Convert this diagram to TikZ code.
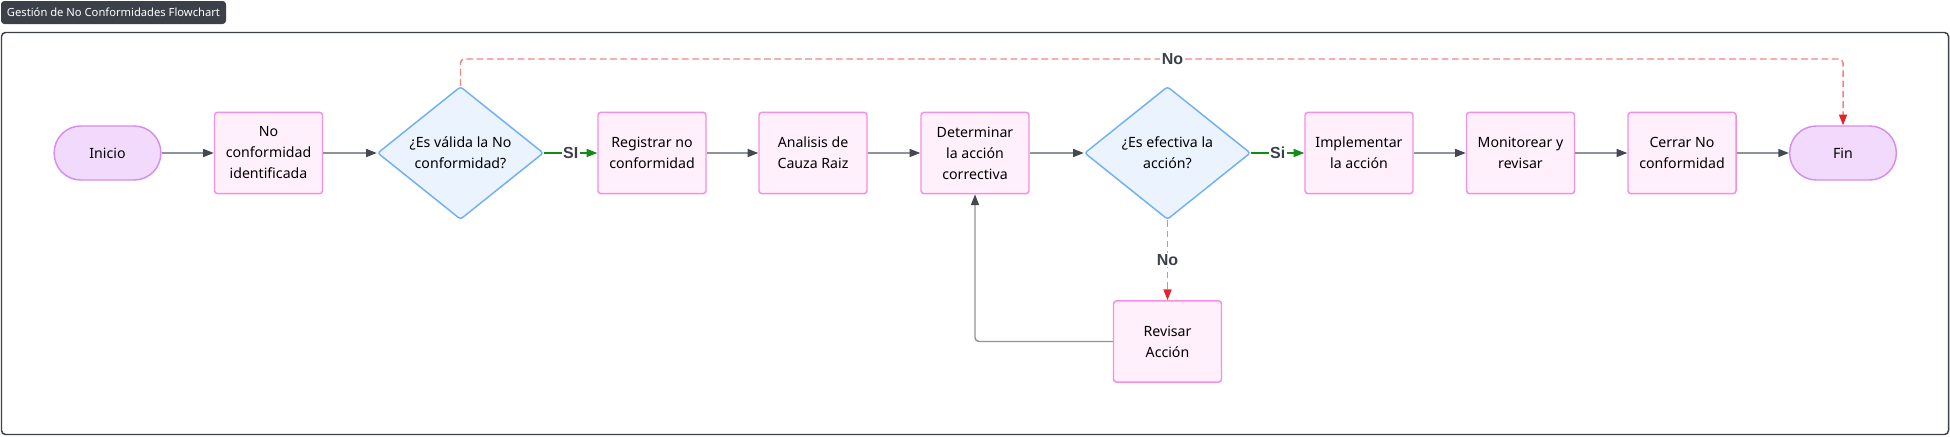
\documentclass[tikz,border=0pt]{standalone}
\usepackage{fontspec}
\setmainfont{Noto Sans}
\newfontfamily\lblfont{Liberation Sans}
\usetikzlibrary{shapes.geometric,arrows.meta}
\definecolor{boxfill}{HTML}{FFF0FB}
\definecolor{boxdraw}{HTML}{F48FE1}
\definecolor{termfill}{HTML}{F2DAFD}
\definecolor{termdraw}{HTML}{D48DF2}
\definecolor{decfill}{HTML}{EBF4FE}
\definecolor{decdraw}{HTML}{71B0F6}
\definecolor{linegray}{HTML}{8F939A}
\definecolor{tipgray}{HTML}{434851}
\definecolor{yesgreen}{HTML}{168A16}
\definecolor{nored}{HTML}{F08484}
\definecolor{tipred}{HTML}{E5222A}
\definecolor{labelgray}{HTML}{3C4049}
\definecolor{framegray}{HTML}{3C4049}
\tikzset{
  nodefont/.style={font=\fontsize{10.6}{15.75}\selectfont},
  procbox/.style={rectangle, rounded corners=2.25pt, fill=boxfill, draw=boxdraw, line width=1.1pt,
    minimum width=81pt, minimum height=61pt, align=center, inner sep=0pt, nodefont},
  termbox/.style={rectangle, rounded corners=20pt, fill=termfill, draw=termdraw, line width=1.1pt,
    minimum width=80pt, minimum height=40.5pt, inner sep=0pt, nodefont},
  decbox/.style={diamond, shape aspect=1.25, rounded corners=2pt, fill=decfill, draw=decdraw, line width=1.1pt,
    minimum width=124.5pt, minimum height=99.75pt, inner sep=0pt, align=center, nodefont},
  flow/.style={draw=linegray, line width=1.1pt, -{Triangle[length=8pt,width=6pt,color=tipgray]}},
  yesflow/.style={draw=yesgreen, line width=1.1pt, -{Triangle[length=8pt,width=6pt]}},
  noflow/.style={draw=nored, line width=1.1pt, dash pattern=on 5pt off 2.7pt, -{Triangle[length=8pt,width=6pt,color=tipred]}},
  lbl/.style={fill=white, text=labelgray, font=\lblfont\bfseries\fontsize{12}{13}\selectfont, inner sep=1.2pt},
}
\begin{document}
\begin{tikzpicture}[x=0.75pt,y=-0.75pt]
\useasboundingbox (0,0) rectangle (1950,436);
% title badge and frame
\node[fill=framegray, rounded corners=2.5pt, text=white, minimum width=168.75pt, minimum height=17.25pt,
  inner sep=0pt, font=\fontsize{8.4}{10}\selectfont] (title) at (113.5,12.5) {Gestión de No Conformidades Flowchart};
\draw[framegray, line width=1.1pt, rounded corners=3pt] (1.5,32.5) rectangle (1948.5,434.5);
% nodes
\node[termbox] (ini) at (107.5,153) {Inicio};
\node[procbox] (ident) at (268.5,153) {No\\conformidad\\identificada};
\node[decbox] (d1) at (460.5,153) {¿Es válida la No\\conformidad?};
\node[procbox] (reg) at (652,153) {Registrar no\\conformidad};
\node[procbox] (ana) at (813,153) {Analisis de\\Cauza Raiz};
\node[procbox] (det) at (975,153) {Determinar\\la acción\\correctiva};
\node[decbox] (d2) at (1167.5,153) {¿Es efectiva la\\acción?};
\node[procbox] (rev) at (1167.5,341.5) {Revisar\\Acción};
\node[procbox] (imp) at (1359,153) {Implementar\\la acción};
\node[procbox] (mon) at (1520.5,153) {Monitorear y\\revisar};
\node[procbox] (cer) at (1682,153) {Cerrar No\\conformidad};
\node[termbox] (fin) at (1843,153) {Fin};
\coordinate (topL) at (460.5,59);
% connectors
\draw[flow] (ini) -- (ident);
\draw[flow] (ident) -- (d1);
\draw[yesflow] (d1) -- node[lbl]{SI} (reg);
\draw[flow] (reg) -- (ana);
\draw[flow] (ana) -- (det);
\draw[flow] (det) -- (d2);
\draw[yesflow] (d2) -- node[lbl]{Si} (imp);
\draw[flow] (imp) -- (mon);
\draw[flow] (mon) -- (cer);
\draw[flow] (cer) -- (fin);
\draw[noflow] (d2) -- node[lbl]{No} (rev);
\draw[flow, rounded corners=3pt] (rev.west) -| (det.south);
\draw[noflow, rounded corners=3pt] (d1.north) -- (topL) -- node[lbl, pos=0.515]{No} (topL -| fin.north) -- (fin.north);
\end{tikzpicture}
\end{document}
